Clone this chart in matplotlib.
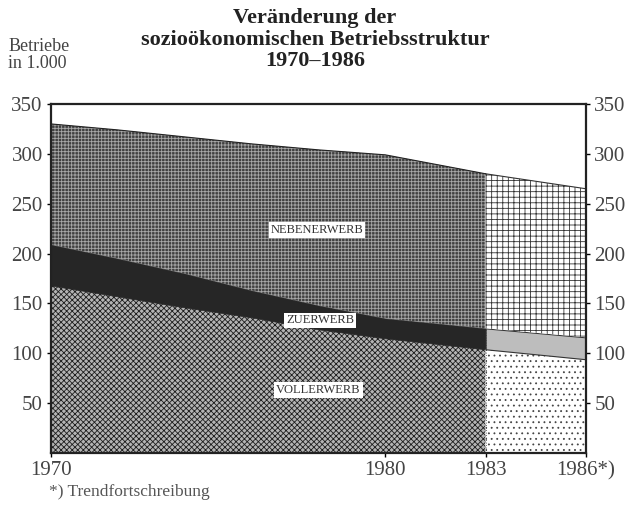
import matplotlib.pyplot as plt
import numpy as np

# Betriebe in 1.000, ab 1983 Trendfortschreibung
jahre = np.array([1970, 1972, 1974, 1976, 1978, 1980, 1983, 1986])
vollerwerb = np.array([168, 157, 146, 136, 124, 115, 104, 94])
zuerwerb = np.array([41, 38, 34, 27, 24, 20, 21, 22])
nebenerwerb = np.array([121, 129, 137, 147, 156, 164, 155, 149])

namen = ["VOLLERWERB", "ZUERWERB", "NEBENERWERB"]
x_ticks = [1970, 1980, 1983, 1986]
x_labels = ["1970", "1980", "1983", "1986*)"]
y_ticks = [50, 100, 150, 200, 250, 300, 350]

plt.rcParams['font.family'] = ['Liberation Serif', 'DejaVu Serif']
plt.rcParams['hatch.linewidth'] = 0.6

fig = plt.figure(figsize=(6.3, 5.11), dpi=100)
ax = fig.add_axes([0.081, 0.1135, 0.849, 0.683])

unten = np.zeros(len(jahre))
mitte = vollerwerb + zuerwerb
oben = mitte + nebenerwerb

ist = jahre <= 1983
trend = jahre >= 1983

# bis 1983
ax.fill_between(jahre, unten, vollerwerb, where=ist, facecolor='#b4b4b4',
                edgecolor='#1e1e1e', hatch='xxxxxx', linewidth=0)
ax.fill_between(jahre, vollerwerb, mitte, where=ist, facecolor='#262626',
                edgecolor='#262626', linewidth=0.5)
ax.fill_between(jahre, mitte, oben, where=ist, facecolor='#404040',
                edgecolor='#a8a8a8', hatch='+++++', linewidth=0)

# Trendfortschreibung
ax.fill_between(jahre, unten, vollerwerb, where=trend, facecolor='white',
                edgecolor='#444444', hatch='...', linewidth=0)
ax.fill_between(jahre, vollerwerb, mitte, where=trend, facecolor='#bdbdbd',
                edgecolor='#333333', linewidth=0.8)
ax.fill_between(jahre, mitte, oben, where=trend, facecolor='white',
                edgecolor='#333333', hatch='+++', linewidth=0)
ax.plot(jahre[trend], oben[trend], color='#333333', lw=0.8)
ax.plot(jahre[ist], oben[ist], color='#222222', lw=0.8)
ax.axvline(1983, ymax=mitte[jahre == 1983][0] / 350, color='#444444',
           lw=0.6, ls=(0, (1, 2)))

box = dict(boxstyle='square,pad=0.15', facecolor='white', edgecolor='none')
label_pos = [(1978.0, 63), (1978.05, 133), (1977.95, 224)]
for name, (lx, ly) in zip(namen, label_pos):
    ax.text(lx, ly, name, ha='center', va='center', fontsize=9,
            family='Liberation Serif', color='#333333', bbox=box)

ax.set_xlim(1970, 1986)
ax.set_ylim(0, 350)
ax.set_xticks(x_ticks)
ax.set_xticklabels(x_labels)
ax.set_yticks(y_ticks)
ax.tick_params(axis='y', which='both', direction='out', length=3, width=1,
               right=True, labelright=True, labelsize=15, labelcolor='#444444',
               pad=3)
ax.tick_params(axis='x', direction='out', length=3, width=1, labelsize=15,
               labelcolor='#444444', pad=3)
for s in ax.spines.values():
    s.set_linewidth(1.6)
    s.set_color('#222222')

fig.text(0.5, 0.965, "Veränderung der", ha='center', va='center',
         fontsize=16, fontweight='bold', color='#222222')
fig.text(0.5, 0.922, "sozioökonomischen Betriebsstruktur", ha='center',
         va='center', fontsize=16, fontweight='bold', color='#222222')
fig.text(0.5, 0.880, "1970–1986", ha='center', va='center',
         fontsize=16, fontweight='bold', color='#222222')
fig.text(0.013, 0.893, "Betriebe\nin 1.000", ha='left', va='center',
         fontsize=13, color='#444444', linespacing=1.0)
fig.text(0.078, 0.037, "*) Trendfortschreibung", ha='left', va='center',
         fontsize=12.5, color='#555555')

fig.savefig("out.png", dpi=100)
